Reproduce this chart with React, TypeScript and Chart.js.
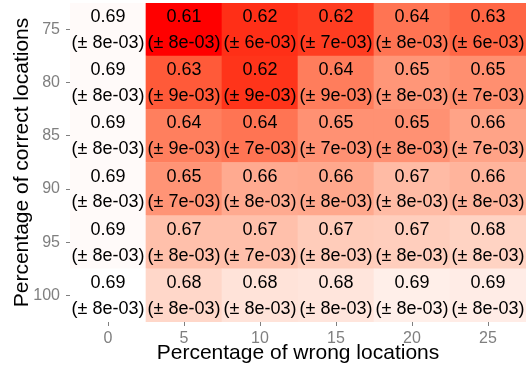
import React, { useEffect, useRef } from "react";
import { Chart, registerables } from "chart.js";

Chart.register(...registerables);

// Columns: percentage of wrong locations
const wrongPct = ["0", "5", "10", "15", "20", "25"];
// Rows: percentage of correct locations (top to bottom)
const correctPct = ["75", "80", "85", "90", "95", "100"];

// Mean values per row (estimated with an extra digit from the fill colour)
const mean75 = [0.692, 0.612, 0.617, 0.62, 0.637, 0.632];
const mean80 = [0.692, 0.628, 0.618, 0.64, 0.65, 0.647];
const mean85 = [0.692, 0.641, 0.637, 0.648, 0.648, 0.655];
const mean90 = [0.692, 0.649, 0.658, 0.657, 0.665, 0.662];
const mean95 = [0.692, 0.667, 0.667, 0.672, 0.673, 0.675];
const mean100 = [0.694, 0.677, 0.682, 0.683, 0.687, 0.686];

// Standard errors (x 1e-03) per row
const err75 = [8, 8, 6, 7, 8, 6];
const err80 = [8, 9, 9, 9, 8, 7];
const err85 = [8, 9, 7, 7, 8, 7];
const err90 = [8, 7, 8, 8, 8, 8];
const err95 = [8, 8, 7, 8, 8, 8];
const err100 = [8, 8, 8, 8, 8, 8];

const means = [mean75, mean80, mean85, mean90, mean95, mean100];
const errs = [err75, err80, err85, err90, err95, err100];

// ---- colour: Lab interpolation red -> white (like ggplot gradient) ----
function srgbToLin(c: number) {
  c /= 255;
  return c <= 0.04045 ? c / 12.92 : Math.pow((c + 0.055) / 1.055, 2.4);
}
function linToSrgb(c: number) {
  const v = c <= 0.0031308 ? 12.92 * c : 1.055 * Math.pow(c, 1 / 2.4) - 0.055;
  return Math.max(0, Math.min(255, Math.round(v * 255)));
}
const Xn = 0.95047, Yn = 1.0, Zn = 1.08883;
function rgbToLab(r: number, g: number, b: number) {
  const R = srgbToLin(r), G = srgbToLin(g), B = srgbToLin(b);
  const X = 0.4124 * R + 0.3576 * G + 0.1805 * B;
  const Y = 0.2126 * R + 0.7152 * G + 0.0722 * B;
  const Z = 0.0193 * R + 0.1192 * G + 0.9505 * B;
  const f = (t: number) => (t > 0.008856 ? Math.cbrt(t) : 7.787 * t + 16 / 116);
  const fx = f(X / Xn), fy = f(Y / Yn), fz = f(Z / Zn);
  return [116 * fy - 16, 500 * (fx - fy), 200 * (fy - fz)];
}
function labToRgb(L: number, a: number, b: number) {
  const fy = (L + 16) / 116;
  const fx = fy + a / 500;
  const fz = fy - b / 200;
  const inv = (t: number) => (t * t * t > 0.008856 ? t * t * t : (t - 16 / 116) / 7.787);
  const X = Xn * inv(fx), Y = Yn * inv(fy), Z = Zn * inv(fz);
  const R = 3.2406 * X - 1.5372 * Y - 0.4986 * Z;
  const G = -0.9689 * X + 1.8758 * Y + 0.0415 * Z;
  const B = 0.0557 * X - 0.204 * Y + 1.057 * Z;
  return `rgb(${linToSrgb(R)},${linToSrgb(G)},${linToSrgb(B)})`;
}
const LOW = rgbToLab(255, 0, 0);
const HIGH = rgbToLab(255, 255, 255);
const allVals = means.flat();
const vMin = Math.min(...allVals);
const vMax = Math.max(...allVals);
function fillFor(v: number) {
  const t = (v - vMin) / (vMax - vMin);
  return labToRgb(
    LOW[0] + (HIGH[0] - LOW[0]) * t,
    LOW[1] + (HIGH[1] - LOW[1]) * t,
    LOW[2] + (HIGH[2] - LOW[2]) * t
  );
}

const FONT = "'Liberation Sans', Arial, Helvetica, sans-serif";
const GRAY = "#7f7f7f";

export default function App() {
  const ref = useRef<HTMLCanvasElement | null>(null);

  useEffect(() => {
    document.body.style.margin = "0";
    const canvas = ref.current;
    if (!canvas) return;

    // datasets stacked bottom-up: row 100 first, row 75 last
    const order = correctPct.map((_, i) => i).reverse();
    const datasets = order.map((ri) => ({
      label: correctPct[ri],
      data: wrongPct.map(() => 1),
      backgroundColor: means[ri].map((v) => fillFor(v)),
      borderWidth: 0,
      barPercentage: 1,
      categoryPercentage: 1,
      rowIndex: ri,
    }));

    const cellText = {
      id: "cellText",
      afterDatasetsDraw(chart: any) {
        const ctx = chart.ctx;
        ctx.save();
        ctx.fillStyle = "#000000";
        ctx.font = `18px ${FONT}`;
        ctx.textAlign = "center";
        ctx.textBaseline = "middle";
        chart.data.datasets.forEach((ds: any, di: number) => {
          const meta = chart.getDatasetMeta(di);
          const ri = ds.rowIndex;
          meta.data.forEach((el: any, ci: number) => {
            const cy = (el.y + el.base) / 2;
            const m = means[ri][ci].toFixed(2);
            const e = `(\u00b1 ${errs[ri][ci]}e-03)`;
            ctx.fillText(m, el.x, cy - 12.5);
            ctx.fillText(e, el.x, cy + 13.3);
          });
        });
        ctx.restore();
      },
    };

    const zeroPad = (s: any) => {
      s.paddingTop = 0;
      s.paddingBottom = 0;
      s.paddingLeft = 0;
      s.paddingRight = 0;
    };

    const chart = new Chart(canvas, {
      type: "bar",
      data: { labels: wrongPct, datasets: datasets as any },
      options: {
        animation: false,
        responsive: false,
        layout: { padding: { top: 3, right: 4, left: 0, bottom: 0 } },
        plugins: { legend: { display: false }, tooltip: { enabled: false } },
        scales: {
          x: {
            type: "category",
            stacked: true,
            offset: true,
            afterFit: (s: any) => {
              s.height = 47;
              zeroPad(s);
            },
            grid: {
              display: true,
              offset: false,
              drawOnChartArea: false,
              drawTicks: true,
              tickLength: 4,
              color: GRAY,
              lineWidth: 1,
            },
            border: { display: false },
            ticks: {
              color: GRAY,
              font: { family: FONT, size: 16 },
              padding: 3,
              maxRotation: 0,
            },
            title: {
              display: true,
              text: "Percentage of wrong locations",
              color: "#000000",
              font: { family: FONT, size: 21 },
              padding: { top: 0, bottom: 3 },
            },
          },
          y: {
            type: "linear",
            stacked: true,
            min: 0,
            max: 6,
            afterFit: (s: any) => {
              s.width = 70;
              zeroPad(s);
            },
            afterBuildTicks: (s: any) => {
              s.ticks = [0.5, 1.5, 2.5, 3.5, 4.5, 5.5].map((v) => ({ value: v }));
            },
            grid: {
              display: true,
              drawOnChartArea: false,
              drawTicks: true,
              tickLength: 4,
              color: GRAY,
              lineWidth: 1,
            },
            border: { display: false },
            ticks: {
              color: GRAY,
              font: { family: FONT, size: 16 },
              padding: 6,
              autoSkip: false,
              callback: (v: any) => {
                const idx = Math.round(Number(v) - 0.5);
                return correctPct[correctPct.length - 1 - idx];
              },
            },
            title: {
              display: true,
              text: "Percentage of correct locations",
              color: "#000000",
              font: { family: FONT, size: 21 },
              padding: { top: 10, bottom: 0 },
            },
          },
        },
      },
      plugins: [cellText],
    });

    return () => chart.destroy();
  }, []);

  return (
    <div style={{ width: 530, height: 369, background: "#ffffff" }}>
      <canvas ref={ref} width={530} height={369} style={{ display: "block" }} />
    </div>
  );
}
